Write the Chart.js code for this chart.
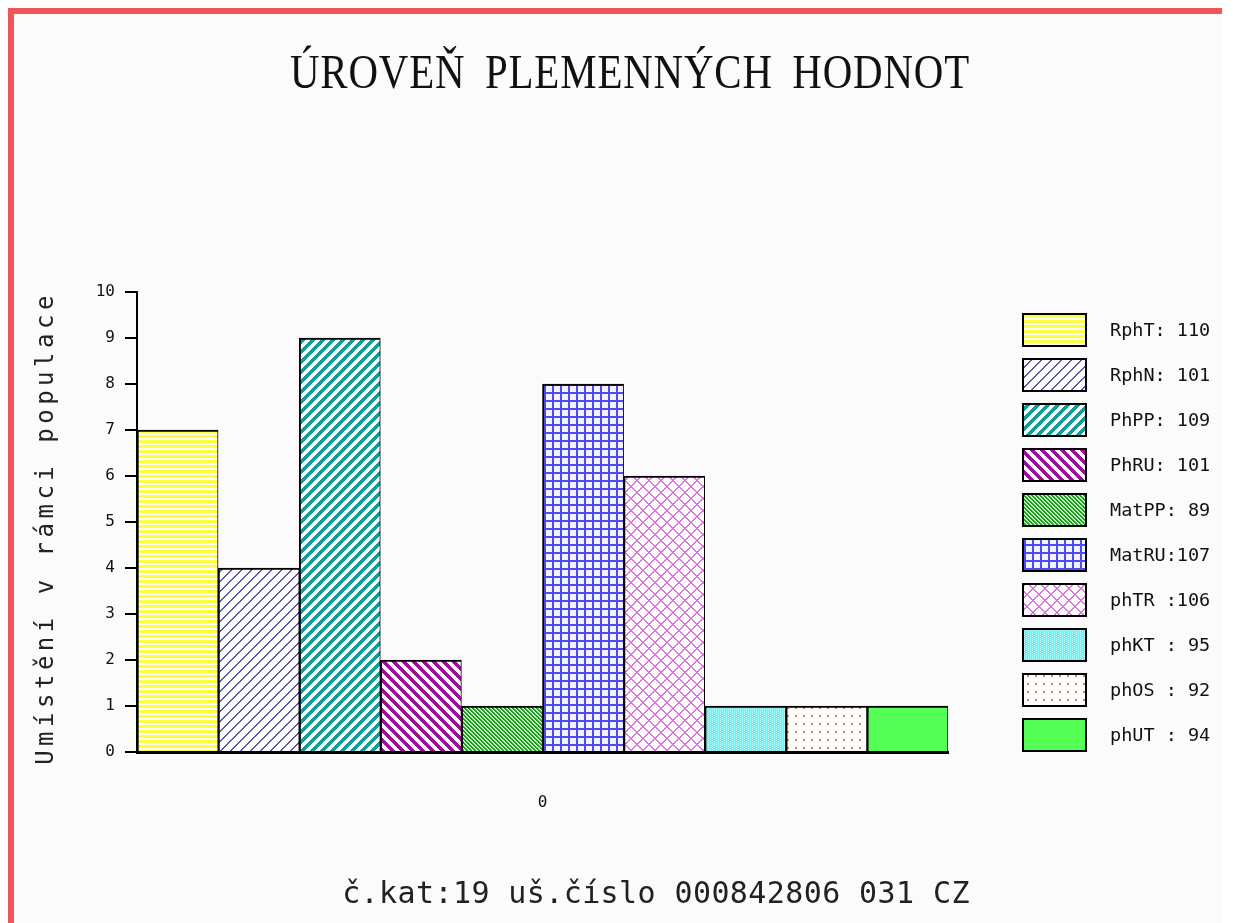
<!DOCTYPE html>
<html>
<head>
<meta charset="utf-8">
<script src="https://cdn.jsdelivr.net/npm/chart.js@4.4.0/dist/chart.umd.min.js"></script>
<style>
  body { margin: 0; background: #ffffff; overflow: hidden; }
  #frame {
    position: absolute; left: 8px; top: 8px;
    width: 1208px; height: 940px;
    border-top: 6px solid #f25555; border-left: 6px solid #f25555;
    background: #fbfbfb;
  }
  #wrap { position: absolute; left: 0; top: 0; width: 1239px; height: 923px; }
</style>
</head>
<body>
<div id="frame"></div>
<div id="wrap"><canvas id="chart"></canvas></div>
<script>
const categories = ['0'];
const seriesNames = ['RphT:', 'RphN:', 'PhPP:', 'PhRU:', 'MatPP:', 'MatRU:', 'phTR :', 'phKT :', 'phOS :', 'phUT :'];
const seriesValues = [7, 4, 9, 2, 1, 8, 6, 1, 1, 1];
const breedingValues = [110, 101, 109, 101, 89, 107, 106, 95, 92, 94];
const yTicks = [0, 1, 2, 3, 4, 5, 6, 7, 8, 9, 10];

const titleText = 'ÚROVEŇ PLEMENNÝCH HODNOT';
const yTitleText = 'Umístění v rámci populace';
const footerText = 'č.kat:19 uš.číslo 000842806 031 CZ';

const CANVAS = document.getElementById('chart');
const mainCtx = CANVAS.getContext('2d');

// small tiles turned into fill patterns
function makePattern(size, paint) {
  const c = document.createElement('canvas');
  c.width = size; c.height = size;
  const g = c.getContext('2d');
  g.fillStyle = '#ffffff';
  g.fillRect(0, 0, size, size);
  for (let y = 0; y < size; y++) {
    for (let x = 0; x < size; x++) {
      const col = paint(x, y);
      if (col) { g.fillStyle = col; g.fillRect(x, y, 1, 1); }
    }
  }
  return mainCtx.createPattern(c, 'repeat');
}

const fills = [
  makePattern(5, (x, y) => y % 5 < 3 ? '#ffff3c' : null),
  makePattern(10, (x, y) => (x + y) % 10 < 2 ? '#5a5aa8' : null),
  makePattern(10, (x, y) => (x + y) % 10 < 5 ? '#169c98' : null),
  makePattern(10, (x, y) => (x - y + 100) % 10 < 5 ? '#99119b' : null),
  makePattern(4, (x, y) => {
    const k = (x - y + 64) % 4;
    return k < 2 ? '#1e9e1e' : (k === 2 ? '#9bd89b' : null);
  }),
  makePattern(8, (x, y) => (x % 8 < 2 || y % 8 < 2) ? '#4b4bf8' : '#f4f4ff'),
  makePattern(12, (x, y) => ((x + y) % 12 < 2 || (x - y + 120) % 12 < 2) ? '#dd77dd' : null),
  makePattern(4, (x, y) => (x + 2 * y) % 4 === 0 ? '#c8ffff' : '#6ef0f0'),
  makePattern(8, (x, y) => (x % 8 === 3 || x % 8 === 4) && (y % 8 === 3 || y % 8 === 4) ? '#d08a50' : null),
  '#55ff55'
];

const datasets = seriesNames.map((name, i) => ({
  label: name.padEnd(6) + String(breedingValues[i]).padStart(3),
  data: [seriesValues[i]],
  backgroundColor: fills[i],
  borderColor: '#000000',
  borderWidth: {top: 2, left: 2, right: 1, bottom: 0},
  borderSkipped: false,
  categoryPercentage: 1,
  barPercentage: 1
}));

// title, rotated axis title, side legend and bottom line
const decorations = {
  id: 'decorations',
  afterDraw(chart) {
    const ctx = chart.ctx;
    const area = chart.chartArea;

    ctx.save();
    ctx.fillStyle = '#111111';
    ctx.font = '48px "Liberation Serif"';
    ctx.letterSpacing = '1px';
    ctx.wordSpacing = '10px';
    ctx.textAlign = 'center';
    ctx.textBaseline = 'alphabetic';
    const tw = ctx.measureText(titleText).width;
    ctx.translate(630, 88);
    ctx.scale(680 / tw, 1);
    ctx.fillText(titleText, 0, 0);
    ctx.restore();

    ctx.save();
    ctx.fillStyle = '#222222';
    ctx.font = '24px "DejaVu Sans Mono"';
    ctx.letterSpacing = '4.5px';
    ctx.textAlign = 'center';
    ctx.textBaseline = 'middle';
    ctx.translate(47, (area.top + area.bottom) / 2 + 6);
    ctx.rotate(-Math.PI / 2);
    ctx.fillText(yTitleText, 0, 0);
    ctx.restore();

    ctx.save();
    ctx.font = '18.5px "DejaVu Sans Mono"';
    ctx.textAlign = 'left';
    ctx.textBaseline = 'middle';
    chart.data.datasets.forEach((ds, i) => {
      const top = 314 + i * 45;
      ctx.fillStyle = ds.backgroundColor;
      ctx.fillRect(1023, top, 63, 32);
      ctx.strokeStyle = '#000000';
      ctx.lineWidth = 2;
      ctx.strokeRect(1023, top, 63, 32);
      ctx.fillStyle = '#111111';
      ctx.fillText(ds.label, 1110, top + 17);
    });
    ctx.restore();

    ctx.save();
    ctx.fillStyle = '#222222';
    ctx.font = '30px "DejaVu Sans Mono"';
    ctx.letterSpacing = '0.4px';
    ctx.textAlign = 'center';
    ctx.textBaseline = 'middle';
    ctx.fillText(footerText, 656, 895);
    ctx.restore();
  }
};

const barChart = new Chart(CANVAS, {
  type: 'bar',
  data: {
    labels: categories,
    datasets: datasets
  },
  plugins: [decorations],
  options: {
    responsive: true,
    maintainAspectRatio: false,
    animation: false,
    layout: {
      padding: {top: 292, right: 291, bottom: 111, left: 0}
    },
    plugins: {
      legend: { display: false },
      title: { display: false },
      tooltip: { enabled: false }
    },
    scales: {
      x: {
        grid: { display: false, drawTicks: false },
        border: { color: '#000000', width: 3 },
        ticks: {
          color: '#111111',
          padding: 41,
          font: { family: 'DejaVu Sans Mono', size: 16 }
        },
        afterFit(scale) { scale.height = 60; }
      },
      y: {
        min: 0,
        max: 10,
        afterBuildTicks(scale) { scale.ticks = yTicks.map(v => ({value: v})); },
        grid: { drawOnChartArea: false, color: '#000000', lineWidth: 2, tickLength: 12 },
        border: { color: '#000000', width: 2 },
        ticks: {
          color: '#111111',
          padding: 10,
          font: { family: 'DejaVu Sans Mono', size: 16 }
        },
        afterFit(scale) { scale.width = 137; }
      }
    }
  }
});
</script>
</body>
</html>
